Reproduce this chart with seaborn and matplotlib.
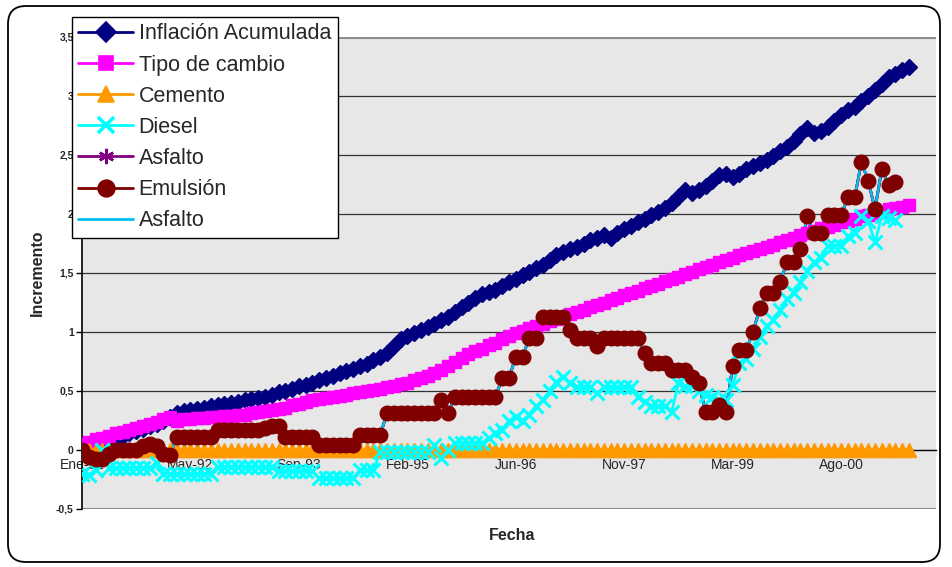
import numpy as np
import matplotlib
matplotlib.use("Agg")
import matplotlib.pyplot as plt
from matplotlib.lines import Line2D
from matplotlib.patches import FancyBboxPatch
from matplotlib.transforms import IdentityTransform
import seaborn as sns

nan = float("nan")

tick_labels = ["Ene-91", "May-92", "Sep-93", "Feb-95", "Jun-96", "Nov-97", "Mar-99", "Ago-00"]
y_tick_values = [-0.5, 0, 0.5, 1, 1.5, 2, 2.5, 3, 3.5]
y_tick_labels = ["-0,5", "0", "0,5", "1", "1,5", "2", "2,5", "3", "3,5"]

inflacion = [
    0.00, 0.02, 0.04, 0.06, 0.08, 0.10, 0.12, 0.14, 0.16, 0.18,
    0.20, 0.22, 0.25, 0.28, 0.31, 0.33, 0.34, 0.35, 0.36, 0.37,
    0.38, 0.39, 0.40, 0.41, 0.42, 0.43, 0.44, 0.45, 0.47, 0.49,
    0.50, 0.52, 0.54, 0.55, 0.57, 0.59, 0.61, 0.63, 0.65, 0.67,
    0.69, 0.71, 0.73, 0.76, 0.79, 0.82, 0.88, 0.94, 0.97, 0.99,
    1.02, 1.04, 1.07, 1.10, 1.13, 1.17, 1.21, 1.25, 1.29, 1.32,
    1.34, 1.36, 1.39, 1.42, 1.45, 1.48, 1.51, 1.54, 1.57, 1.61,
    1.65, 1.68, 1.70, 1.72, 1.75, 1.78, 1.80, 1.82, 1.80, 1.84,
    1.87, 1.90, 1.93, 1.96, 1.99, 2.02, 2.05, 2.09, 2.14, 2.20,
    2.18, 2.20, 2.24, 2.28, 2.33, 2.34, 2.31, 2.34, 2.38, 2.41,
    2.43, 2.46, 2.49, 2.53, 2.57, 2.62, 2.68, 2.73, 2.69, 2.70,
    2.74, 2.79, 2.84, 2.88, 2.91, 2.96, 3.00, 3.05, 3.10, 3.16,
    3.19, 3.22, 3.25,
]

tipo_cambio = [
    0.05, 0.07, 0.09, 0.10, 0.12, 0.14, 0.15, 0.17, 0.19, 0.20,
    0.22, 0.24, 0.26, 0.28, 0.25, 0.26, 0.26, 0.27, 0.27, 0.28,
    0.28, 0.29, 0.29, 0.30, 0.30, 0.31, 0.32, 0.33, 0.34, 0.35,
    0.36, 0.38, 0.39, 0.41, 0.42, 0.43, 0.44, 0.45, 0.46, 0.47,
    0.48, 0.49, 0.50, 0.51, 0.52, 0.53, 0.54, 0.56, 0.57, 0.59,
    0.61, 0.63, 0.65, 0.68, 0.71, 0.75, 0.78, 0.81, 0.84, 0.86,
    0.89, 0.91, 0.94, 0.97, 0.99, 1.01, 1.03, 1.05, 1.07, 1.09,
    1.11, 1.13, 1.15, 1.17, 1.19, 1.21, 1.23, 1.25, 1.27, 1.29,
    1.31, 1.33, 1.35, 1.37, 1.39, 1.41, 1.43, 1.45, 1.47, 1.49,
    1.51, 1.53, 1.55, 1.57, 1.59, 1.61, 1.63, 1.65, 1.67, 1.69,
    1.70, 1.72, 1.74, 1.76, 1.78, 1.80, 1.82, 1.84, 1.86, 1.88,
    1.89, 1.91, 1.93, 1.94, 1.96, 1.98, 1.99, 2.01, 2.02, 2.04,
    2.05, 2.06, 2.08,
]

cemento = [0.0] * 123

diesel = [
    -0.20, -0.21, -0.17, 0.00, -0.15, -0.15, -0.15, -0.15, -0.15, -0.15,
    -0.15, -0.11, -0.20, -0.20, -0.20, -0.20, -0.20, -0.20, -0.20, -0.20,
    -0.14, -0.14, -0.14, -0.14, -0.14, -0.14, -0.14, -0.14, -0.14, -0.18,
    -0.18, -0.18, -0.18, -0.18, -0.18, -0.24, -0.24, -0.24, -0.24, -0.24,
    -0.24, -0.17, -0.17, -0.17, -0.02, -0.02, -0.02, -0.02, -0.02, -0.02,
    -0.02, -0.02, 0.04, -0.07, 0.00, 0.06, 0.06, 0.06, 0.06, 0.06,
    0.10, 0.14, 0.17, 0.25, 0.28, 0.25, 0.30, 0.37, 0.42, 0.50,
    0.58, 0.62, 0.57, 0.53, 0.53, 0.53, 0.48, 0.53, 0.53, 0.53,
    0.53, 0.53, 0.45, 0.41, 0.37, 0.37, 0.37, 0.32, 0.57, 0.54,
    0.54, 0.50, 0.47, 0.45, 0.42, 0.42, 0.55, 0.74, 0.77, 0.86,
    0.96, 1.05, 1.10, 1.19, 1.28, 1.33, 1.42, 1.52, 1.59, 1.63,
    1.73, 1.73, 1.73, 1.81, 1.84, 1.98, 1.94, 1.76, 1.98, 1.97,
    1.95, nan, nan,
]

emulsion = [
    0.00, -0.06, -0.08, -0.08, -0.03, 0.00, 0.00, 0.00, 0.00, 0.03,
    0.05, 0.03, -0.03, -0.04, 0.11, 0.11, 0.11, 0.11, 0.11, 0.11,
    0.17, 0.17, 0.17, 0.17, 0.17, 0.17, 0.17, 0.19, 0.20, 0.20,
    0.11, 0.11, 0.11, 0.11, 0.11, 0.04, 0.04, 0.04, 0.04, 0.04,
    0.04, 0.13, 0.13, 0.13, 0.13, 0.31, 0.31, 0.31, 0.31, 0.31,
    0.31, 0.31, 0.31, 0.42, 0.31, 0.45, 0.45, 0.45, 0.45, 0.45,
    0.45, 0.45, 0.61, 0.61, 0.79, 0.79, 0.95, 0.95, 1.13, 1.13,
    1.13, 1.13, 1.02, 0.95, 0.95, 0.95, 0.88, 0.95, 0.95, 0.95,
    0.95, 0.95, 0.95, 0.82, 0.74, 0.74, 0.74, 0.68, 0.68, 0.68,
    0.62, 0.57, 0.32, 0.32, 0.38, 0.32, 0.71, 0.85, 0.85, 1.00,
    1.20, 1.33, 1.33, 1.42, 1.59, 1.59, 1.70, 1.98, 1.84, 1.84,
    1.99, 1.99, 1.99, 2.14, 2.14, 2.44, 2.28, 2.04, 2.38, 2.25,
    2.27, nan, nan,
]

asfalto = list(emulsion)
asfalto_linea = list(emulsion)

series_names = ["Inflación Acumulada", "Tipo de cambio", "Cemento", "Diesel",
                "Asfalto", "Emulsión", "Asfalto"]
series_values = [inflacion, tipo_cambio, cemento, diesel, asfalto, emulsion, asfalto_linea]
colors = ["#000080", "#FF00FF", "#FF9900", "#00FFFF", "#800080", "#800000", "#00BFF3"]
markers = ["D", "s", "^", "x", (6, 2, 0), "o", None]
msizes = [7.8, 8.6, 9.8, 10.0, 8, 10.5, 0]
mews = [1, 1, 1, 2.2, 1.5, 1, 0]
lws = [2.2, 2.2, 2.2, 2.0, 2.0, 2.0, 1.8]
leg_msizes = [10, 10, 11, 12, 11, 12, 0]

x = np.arange(len(inflacion))
tick_pos = [16 * i for i in range(len(tick_labels))]

sns.set_style("white")
plt.rcParams["font.family"] = ["Liberation Sans", "DejaVu Sans"]

fig = plt.figure(figsize=(9.52, 5.67), dpi=100)
fig.patch.set_facecolor("white")
ax = fig.add_axes([82 / 952, 1 - 509 / 567, (936 - 82) / 952, (509 - 37) / 567])
ax.set_facecolor("#E7E7E7")

for i, (name, vals) in enumerate(zip(series_names, series_values)):
    y = np.array(vals, dtype=float)
    sns.lineplot(x=x, y=y, color=colors[i], lw=lws[i], ax=ax, legend=False,
                 zorder=2 + i * 0.01, sort=False)
    if markers[i] is not None:
        sns.lineplot(x=x, y=y, color=colors[i], linestyle="", marker=markers[i],
                     markersize=msizes[i], markeredgecolor=colors[i],
                     markerfacecolor=colors[i], markeredgewidth=mews[i],
                     ax=ax, legend=False, zorder=3 + i * 0.01, sort=False)

ax.set_xlim(0, 126)
ax.set_ylim(-0.5, 3.5)
ax.set_yticks(y_tick_values)
ax.set_yticklabels(y_tick_labels, fontsize=7.5, fontweight="bold")
ax.set_xticks(tick_pos)
ax.set_xticklabels(tick_labels, fontsize=8, color="#222222")
ax.tick_params(axis="x", length=0, pad=6)
ax.tick_params(axis="y", length=4, width=1, direction="out", pad=2, color="black", left=True)

for yv in [0.5, 1, 1.5, 2, 2.5, 3]:
    ax.axhline(yv, color="#333333", lw=0.9, zorder=1)
ax.axhline(3.5, color="#8C8C8C", lw=2.2, zorder=1)
ax.axhline(-0.5, color="#8C8C8C", lw=2.2, zorder=1)

ax.spines["bottom"].set_position(("data", 0))
ax.spines["bottom"].set_color("black")
ax.spines["bottom"].set_linewidth(1)
ax.spines["bottom"].set_zorder(1.5)
ax.spines["left"].set_color("black")
ax.spines["left"].set_linewidth(1.2)
ax.spines["top"].set_visible(False)
ax.spines["right"].set_visible(False)

ax.set_ylabel("Incremento", fontsize=11.5, fontweight="bold", va="center")
ax.yaxis.set_label_coords((37 - 82) / 854, 0.5)
ax.set_xlabel("Fecha", fontsize=11.5, fontweight="bold", va="center")
ax.xaxis.set_label_coords((512 - 82) / 854, -26 / 472)

handles = []
for i in range(len(series_names)):
    handles.append(Line2D([0], [0], color=colors[i], lw=2,
                          marker=markers[i] if markers[i] is not None else None,
                          markersize=leg_msizes[i], markeredgecolor=colors[i],
                          markerfacecolor=colors[i], markeredgewidth=mews[i] * 1.2))
leg = fig.legend(handles, series_names, loc="upper left",
                 bbox_to_anchor=(72 / 952, 1 - 17 / 567), bbox_transform=fig.transFigure,
                 fontsize=15.5, frameon=True, fancybox=False, shadow=False,
                 handlelength=2.55, handletextpad=0.25, labelspacing=0.47,
                 borderpad=0.3, borderaxespad=0)
leg.get_frame().set_edgecolor("black")
leg.get_frame().set_linewidth(1.0)
leg.get_frame().set_facecolor("white")
leg.get_frame().set_alpha(1)
leg.set_zorder(10)

border = FancyBboxPatch((8, 5), 932, 556, boxstyle="round,pad=0,rounding_size=18",
                        transform=IdentityTransform(), fill=False,
                        edgecolor="black", lw=1.3, zorder=20)
fig.patches.append(border)

fig.savefig("out.png", dpi=100, facecolor="white")
